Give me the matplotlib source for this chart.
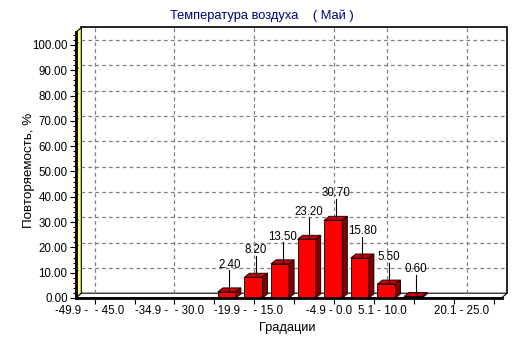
import matplotlib.pyplot as plt
from matplotlib.patches import Polygon
import numpy as np

plt.rcParams['font.family'] = ['Liberation Sans', 'DejaVu Sans']
plt.rcParams['font.size'] = 8.3

# data: 16 temperature gradations, repeatability in %
categories = ['-49.9 -  - 45.0', '-44.9 -  - 40.0', '-39.9 -  - 35.0',
              '-34.9 -  - 30.0', '-29.9 -  - 25.0', '-24.9 -  - 20.0',
              '-19.9 -  - 15.0', '-14.9 -  - 10.0', '-9.9 -  - 5.0',
              '-4.9 - 0.0', '0.1 - 5.0', '5.1 - 10.0', '10.1 - 15.0',
              '15.1 - 20.0', '20.1 - 25.0', '25.1 - 30.0']
values = [0, 0, 0, 0, 0, 2.4, 8.2, 13.5, 23.2, 30.7, 15.8, 5.5, 0.6, 0, 0, 0]
shown_labels = [0, 3, 6, 9, 11, 14]
y_ticks = np.arange(0, 101, 10)

title = 'Температура воздуха    ( Май )'
xlabel = 'Градации'
ylabel = 'Повторяемость, %'

W, H = 532, 343
fig = plt.figure(figsize=(W / 100, H / 100), dpi=100)
ax = fig.add_axes([76 / W, 45 / H, 425.6 / W, 265.7 / H])
ax.set_xlim(-0.5, 15.5)
ax.set_ylim(0, 105)

# depth of the 3d box and of the bars (data units)
dx, dy = 0.2, 1.9
bdx, bdy = 0.19, 1.6
x = np.arange(len(categories))
x0, x1 = -0.5, 15.5

grid_kw = dict(color='#808080', lw=0.9, ls=(0, (3, 2.5)), clip_on=False, zorder=1)

# left wall
ax.add_patch(Polygon([(x0, 0), (x0, 105), (x0 + dx, 105 + dy), (x0 + dx, dy)],
                     closed=True, fc='#ffff80', ec='black', lw=0.8, clip_on=False, zorder=1))
# floor
ax.add_patch(Polygon([(x0, 0), (x1, 0), (x1 + dx, dy), (x0 + dx, dy)],
                     closed=True, fc='white', ec='black', lw=0.8, clip_on=False, zorder=1))
# back wall frame
ax.plot([x0 + dx, x1 + dx, x1 + dx], [105 + dy, 105 + dy, dy],
        color='black', lw=1.2, clip_on=False, zorder=2)

# grid on back wall and left wall
for v in y_ticks[1:]:
    ax.plot([x0 + dx, x1 + dx], [v + dy, v + dy], **grid_kw)
    ax.plot([x0, x0 + dx], [v, v + dy], **grid_kw)
for i in shown_labels:
    ax.plot([i + dx, i + dx], [dy, 105 + dy], **grid_kw)

# bars with top and side faces
off = 0.17
bw = 0.68
ax.bar(x + off, values, width=bw, color='#ff0000', edgecolor='black', lw=0.6, zorder=4)
for xi, v in zip(x, values):
    if v <= 0:
        continue
    l = xi + off - bw / 2
    r = xi + off + bw / 2
    ax.add_patch(Polygon([(l, v), (r, v), (r + bdx, v + bdy), (l + bdx, v + bdy)],
                         closed=True, fc='#c80000', ec='black', lw=0.6, zorder=4))
    ax.add_patch(Polygon([(r, 0), (r, v), (r + bdx, v + bdy), (r + bdx, bdy)],
                         closed=True, fc='#800000', ec='black', lw=0.6, zorder=4))
    cx = xi + off + bdx / 2
    ax.plot([cx, cx], [v + bdy / 2, v + 8.5], color='black', lw=0.8, zorder=5)
    ax.text(cx, v + 10.8, '%.2f' % v, ha='center', va='center', zorder=6)

# axes
for s in ['top', 'right']:
    ax.spines[s].set_visible(False)
ax.spines['left'].set_linewidth(2)
ax.spines['bottom'].set_linewidth(2)
ax.spines['left'].set_zorder(7)
ax.spines['bottom'].set_zorder(7)
ax.set_yticks(y_ticks)
ax.set_yticklabels(['%.2f' % v for v in y_ticks])
ax.set_yticks(np.arange(0, 105, 2), minor=True)
ax.tick_params(axis='y', which='major', length=4, width=0.8, pad=2)
ax.tick_params(axis='y', which='minor', length=2, width=0.8)

ax.set_xticks(np.arange(0, 16, 1.5) + dx)
ax.set_xticklabels([])
ax.tick_params(axis='x', length=4, width=0.8)
for i in shown_labels:
    ax.text(i, -2.6, categories[i], ha='center', va='top')

fig.text(262 / W, 1 - 16 / H, title, ha='center', va='center', color='#000080', fontsize=9.3)
fig.text(287 / W, 1 - 328 / H, xlabel, ha='center', va='center', fontsize=9.3)
fig.text(29 / W, 1 - 170 / H, ylabel, ha='center', va='center', rotation=90, fontsize=9.6)

fig.savefig('out.png', dpi=100, facecolor='white')
